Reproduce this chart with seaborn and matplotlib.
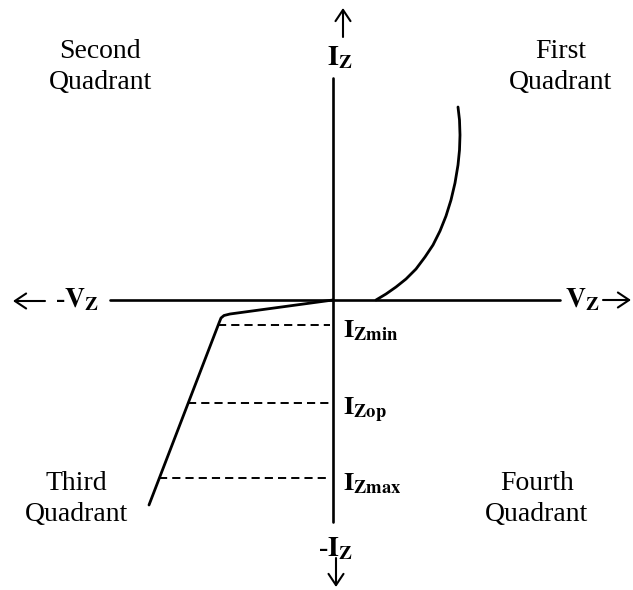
import matplotlib
matplotlib.use('Agg')
import matplotlib.pyplot as plt
import seaborn as sns
import pandas as pd

## Data (voltage / current, origin at the crossing of the axes)
v_forward = [0.43, 0.53, 0.63, 0.73, 0.83, 0.92, 1.00, 1.07, 1.13, 1.18, 1.22, 1.25, 1.265, 1.27, 1.265, 1.25]
i_forward = [0.00, 0.06, 0.13, 0.21, 0.31, 0.43, 0.55, 0.69, 0.84, 1.00, 1.17, 1.35, 1.50, 1.65, 1.80, 1.93]

v_reverse = [0.00, -1.03, -1.09, -1.12, -1.14, -1.84]
i_reverse = [0.00, -0.14, -0.155, -0.18, -0.23, -2.05]

level_names = ['Zmin', 'Zop', 'Zmax']
level_current = [-0.25, -1.03, -1.78]
level_v_start = [-1.155, -1.455, -1.745]

quadrant_names = ['Second\nQuadrant', 'First\nQuadrant', 'Third\nQuadrant', 'Fourth\nQuadrant']

sns.set_theme(style='white')
plt.rcParams['font.family'] = ['Liberation Serif', 'DejaVu Serif']
plt.rcParams['mathtext.fontset'] = 'stix'
plt.rcParams['text.color'] = 'black'

fig = plt.figure(figsize=(6.33, 5.90), dpi=100)
ax = fig.add_axes([0, 0, 1, 1])
ax.set_xlim(-3.33, 3.00)
ax.set_ylim(-2.90, 3.00)
ax.axis('off')

## Axes of the characteristic
ax.plot([-2.23, 2.27], [0, 0], color='black', lw=1.9)
ax.plot([0, 0], [2.22, -2.22], color='black', lw=1.9)

## Forward and reverse branches
fwd = pd.DataFrame({'V': v_forward, 'I': i_forward})
rev = pd.DataFrame({'V': v_reverse, 'I': i_reverse})
sns.lineplot(data=fwd, x='V', y='I', sort=False, estimator=None, color='black', lw=2.0, ax=ax,
             solid_joinstyle='round')
sns.lineplot(data=rev, x='V', y='I', sort=False, estimator=None, color='black', lw=2.0, ax=ax,
             solid_joinstyle='round')

## Dashed current levels
for name, cur, vs in zip(level_names, level_current, level_v_start):
    ax.plot([vs, -0.03], [cur, cur], color='black', lw=1.4, dashes=(4.2, 2.6))
    ax.text(0.10, cur - 0.12, r'$\mathbf{I_{%s}}$' % name, fontsize=19, ha='left', va='baseline')

## Quadrant labels
qx = [-2.33, 2.28, -2.57, 2.04]
qy = [2.33, 2.33, -1.99, -1.99]
for name, x, y in zip(quadrant_names, qx, qy):
    ax.text(x, y, name, fontsize=20, ha='center', va='center', linespacing=1.3)

## Axis arrows
arrow = dict(arrowstyle='->,head_length=0.45,head_width=0.3', color='black', lw=1.5,
             shrinkA=0, shrinkB=0, mutation_scale=18)
ax.annotate('', xy=(0.10, 2.92), xytext=(0.10, 2.63), arrowprops=arrow)
ax.annotate('', xy=(0.03, -2.87), xytext=(0.03, -2.58), arrowprops=arrow)
ax.annotate('', xy=(-3.20, -0.01), xytext=(-2.88, -0.01), arrowprops=arrow)
ax.annotate('', xy=(2.98, 0.0), xytext=(2.70, 0.0), arrowprops=arrow)

## Axis labels
ax.text(0.07, 2.35, r'$\mathbf{I_Z}$', fontsize=20, ha='center', va='baseline')
ax.text(0.02, -2.56, r'-$\mathbf{I_Z}$', fontsize=20, ha='center', va='baseline', fontweight='bold')
ax.text(-2.78, -0.07, r'-$\mathbf{V_Z}$', fontsize=20, ha='left', va='baseline', fontweight='bold')
ax.text(2.32, -0.07, r'$\mathbf{V_Z}$', fontsize=20, ha='left', va='baseline')

plt.savefig('out.png', dpi=100)
plt.close()
